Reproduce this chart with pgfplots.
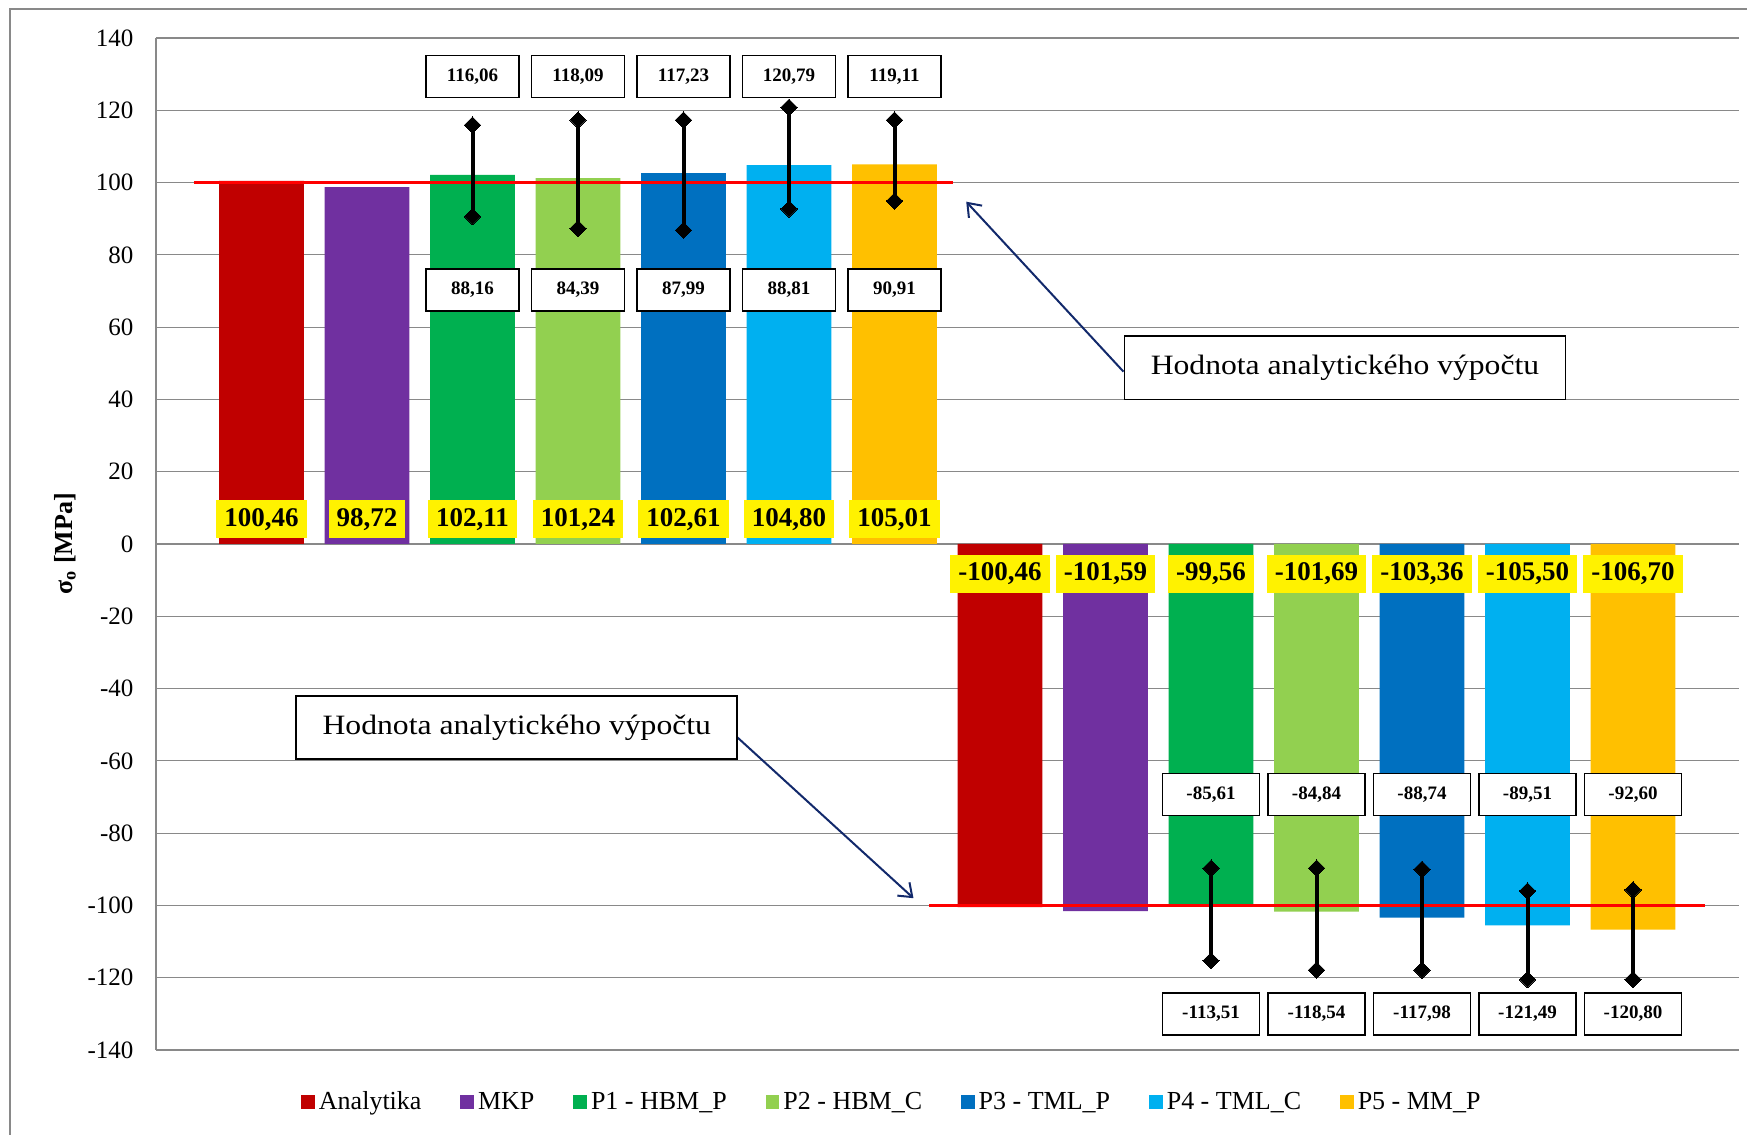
\documentclass[border=0pt]{standalone}
\usepackage{fontspec}
\setmainfont{Liberation Serif}
\usepackage{graphicx}
\usepackage{pgfplots}
\pgfplotsset{compat=1.18}
\usetikzlibrary{arrows.meta}

\definecolor{cA}{HTML}{C00000}
\definecolor{cB}{HTML}{7030A0}
\definecolor{cC}{HTML}{00B050}
\definecolor{cD}{HTML}{92D050}
\definecolor{cE}{HTML}{0070C0}
\definecolor{cF}{HTML}{00B0F0}
\definecolor{cG}{HTML}{FFC000}
\definecolor{gridgray}{HTML}{898989}
\definecolor{navy}{HTML}{12296B}

\newcommand\fs[1]{\fontsize{#1}{#1}\selectfont}

\tikzset{
    yl/.style={fill=yellow, font=\bfseries\fs{13.5}, inner xsep=4pt, inner ysep=3.5pt,
        text height=9.3pt, text depth=2.7pt},
    wb/.style={fill=white, draw=black, line width=0.8pt, font=\bfseries\fs{9.5},
        minimum width=#1, minimum height=21pt, inner sep=0pt},
    hb/.style={fill=white, draw=black, line width=0.9pt, minimum width=220.5pt,
        minimum height=31.7pt, inner sep=0pt, font=\fs{14}},
}

\begin{document}
\begin{tikzpicture}
\useasboundingbox (-78pt,-42.5pt) rectangle (795.5pt,525pt);
\draw[gridgray, line width=0.6pt] (-73pt,-42.5pt) -- (-73pt,520.5pt) -- (795.5pt,520.5pt);

\begin{axis}[
    scale only axis,
    width=791.25pt, height=506pt,
    xmin=0, xmax=15, ymin=-140, ymax=140,
    axis x line=none, axis y line*=left,
    axis line style={draw=gridgray, line width=0.6pt, -},
    xtick=\empty,
    ytick={-140,-120,...,140},
    yticklabels={-140,-120,-100,-80,-60,-40,-20,0,20,40,60,80,100,120,140},
    major tick length=0pt,
    ymajorgrids,
    grid style={draw=gridgray, line width=0.6pt},
    yticklabel style={font=\fs{12.5}, xshift=-7.8pt},
    ylabel={\textbf{σ\textsubscript{o} [MPa]}},
    every axis y label/.style={at={(axis description cs:-0.0575,0.5)}, rotate=90, anchor=center, font=\fs{13}},
    clip=false,
    legend columns=7,
    legend style={at={(0.4657,0)}, anchor=center, yshift=-26pt, draw=none, fill=none,
        font=\fs{13}, /tikz/every even column/.append style={column sep=17.5pt}},
    mybar/.style={ybar, bar width=0.804, bar shift=0pt, draw=none,
        legend image code/.code={\fill[##1] (0pt,-3.4pt) rectangle (6.8pt,3.4pt);}},
]
\addplot[mybar, fill=cA] coordinates {(1,100.46) (8,-100.46)};
\addlegendentry{Analytika}
\addplot[mybar, fill=cB] coordinates {(2,98.72) (9,-101.59)};
\addlegendentry{MKP}
\addplot[mybar, fill=cC] coordinates {(3,102.11) (10,-99.56)};
\addlegendentry{P1 - HBM\_P}
\addplot[mybar, fill=cD] coordinates {(4,101.24) (11,-101.69)};
\addlegendentry{P2 - HBM\_C}
\addplot[mybar, fill=cE] coordinates {(5,102.61) (12,-103.36)};
\addlegendentry{P3 - TML\_P}
\addplot[mybar, fill=cF] coordinates {(6,104.80) (13,-105.50)};
\addlegendentry{P4 - TML\_C}
\addplot[mybar, fill=cG] coordinates {(7,105.01) (14,-106.70)};
\addlegendentry{P5 - MM\_P}

% analytical value lines
\addplot[red, line width=1.8pt, forget plot] coordinates {(0.36,100) (7.55,100)};
\addplot[red, line width=1.8pt, forget plot] coordinates {(7.33,-100) (14.68,-100)};

% min/max whiskers
\addplot[black, line width=2pt, unbounded coords=jump, mark=square*, mark size=2.9pt,
    mark options={rotate=45, solid, line width=0pt}, forget plot] coordinates {
    (3,115.9) (3,90.6) (3,nan)
    (4,117.3) (4,87.3) (4,nan)
    (5,117.3) (5,86.8) (5,nan)
    (6,120.8) (6,92.7) (6,nan)
    (7,117.3) (7,94.9)};
\addplot[black, line width=2pt, unbounded coords=jump, mark=square*, mark size=2.9pt,
    mark options={rotate=45, solid, line width=0pt}, forget plot] coordinates {
    (10,-89.7) (10,-115.3) (10,nan)
    (11,-89.7) (11,-117.9) (11,nan)
    (12,-90.0) (12,-117.9) (12,nan)
    (13,-96.0) (13,-120.5) (13,nan)
    (14,-95.7) (14,-120.5)};

% value labels
\node[yl] at (axis cs:1,6.8) {100,46};
\node[yl] at (axis cs:2,6.8) {98,72};
\node[yl] at (axis cs:3,6.8) {102,11};
\node[yl] at (axis cs:4,6.8) {101,24};
\node[yl] at (axis cs:5,6.8) {102,61};
\node[yl] at (axis cs:6,6.8) {104,80};
\node[yl] at (axis cs:7,6.8) {105,01};
\node[yl] at (axis cs:8,-8.3) {-100,46};
\node[yl] at (axis cs:9,-8.3) {-101,59};
\node[yl] at (axis cs:10,-8.3) {-99,56};
\node[yl] at (axis cs:11,-8.3) {-101,69};
\node[yl] at (axis cs:12,-8.3) {-103,36};
\node[yl] at (axis cs:13,-8.3) {-105,50};
\node[yl] at (axis cs:14,-8.3) {-106,70};

\node[wb=46.5pt] at (axis cs:3,129.4) {116,06};
\node[wb=46.5pt] at (axis cs:4,129.4) {118,09};
\node[wb=46.5pt] at (axis cs:5,129.4) {117,23};
\node[wb=46.5pt] at (axis cs:6,129.4) {120,79};
\node[wb=46.5pt] at (axis cs:7,129.4) {119,11};
\node[wb=46.5pt] at (axis cs:3,70.3) {88,16};
\node[wb=46.5pt] at (axis cs:4,70.3) {84,39};
\node[wb=46.5pt] at (axis cs:5,70.3) {87,99};
\node[wb=46.5pt] at (axis cs:6,70.3) {88,81};
\node[wb=46.5pt] at (axis cs:7,70.3) {90,91};
\node[wb=48.5pt] at (axis cs:10,-69.3) {-85,61};
\node[wb=48.5pt] at (axis cs:11,-69.3) {-84,84};
\node[wb=48.5pt] at (axis cs:12,-69.3) {-88,74};
\node[wb=48.5pt] at (axis cs:13,-69.3) {-89,51};
\node[wb=48.5pt] at (axis cs:14,-69.3) {-92,60};
\node[wb=48.5pt] at (axis cs:10,-130) {-113,51};
\node[wb=48.5pt] at (axis cs:11,-130) {-118,54};
\node[wb=48.5pt] at (axis cs:12,-130) {-117,98};
\node[wb=48.5pt] at (axis cs:13,-130) {-121,49};
\node[wb=48.5pt] at (axis cs:14,-130) {-120,80};

% callouts
\draw[navy, line width=1pt, -{Straight Barb[length=6pt,width=9pt]}]
    (axis cs:9.17,47.7) -- (axis cs:7.68,94.7);
\node[hb] at (axis cs:11.27,48.75) {\scalebox{1.13}[1]{Hodnota analytického výpočtu}};
\draw[navy, line width=1pt, -{Straight Barb[length=6pt,width=9pt]}]
    (axis cs:5.503,-53.3) -- (axis cs:7.18,-98.0);
\node[hb] at (axis cs:3.42,-50.75) {\scalebox{1.13}[1]{Hodnota analytického výpočtu}};
\end{axis}
\end{tikzpicture}
\end{document}
